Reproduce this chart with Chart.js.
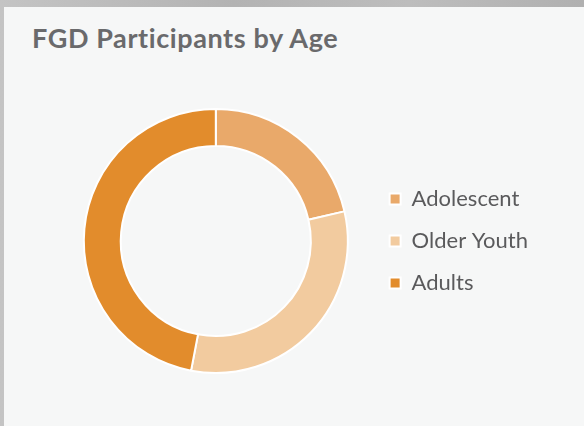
<!DOCTYPE html>
<html>
<head>
<meta charset="utf-8">
<script src="https://cdn.jsdelivr.net/npm/chart.js@4.4.0/dist/chart.umd.min.js"></script>
<style>
  html, body { margin: 0; padding: 0; }
  body {
    width: 584px; height: 426px; overflow: hidden; position: relative;
    background: linear-gradient(90deg, #c4c4c4, #b3b3b3 40%, #bdbdbd 70%, #b0b0b0);
  }
  .card {
    position: absolute; left: 4px; top: 7px; width: 580px; height: 419px;
    background: #f6f7f7;
  }
  .card h2 {
    position: absolute; left: 28px; top: 14px; margin: 0;
    font-family: Lato, "Open Sans", sans-serif; font-weight: 700; font-size: 27px;
    letter-spacing: 0.6px; color: #6a6a6c; white-space: nowrap;
  }
  .chart-box { position: absolute; left: 0; top: 0; width: 580px; height: 419px; }
</style>
</head>
<body>
<div class="card">
  <h2>FGD Participants by Age</h2>
  <div class="chart-box"><canvas id="age"></canvas></div>
</div>
<script>
const ageGroups = ['Adolescent', 'Older Youth', 'Adults'];
const participantShare = [21.4, 31.6, 47];
const sliceColors = ['#e9a96a', '#f2cb9f', '#e28c2c'];

const ctx = document.getElementById('age');

new Chart(ctx, {
  type: 'doughnut',
  data: {
    labels: ageGroups,
    datasets: [
      {
        data: participantShare,
        backgroundColor: sliceColors,
        borderColor: '#ffffff',
        borderWidth: 2
      }
    ]
  },
  options: {
    responsive: true,
    maintainAspectRatio: false,
    animation: false,
    cutout: '72%',
    layout: {
      padding: { top: 101, bottom: 52, left: 58, right: 46 }
    },
    plugins: {
      tooltip: { enabled: false },
      legend: {
        position: 'right',
        labels: {
          boxWidth: 11,
          boxHeight: 11,
          padding: 20,
          color: '#5a5a5c',
          font: { family: 'Lato', size: 22 }
        }
      }
    }
  }
});
</script>
</body>
</html>
